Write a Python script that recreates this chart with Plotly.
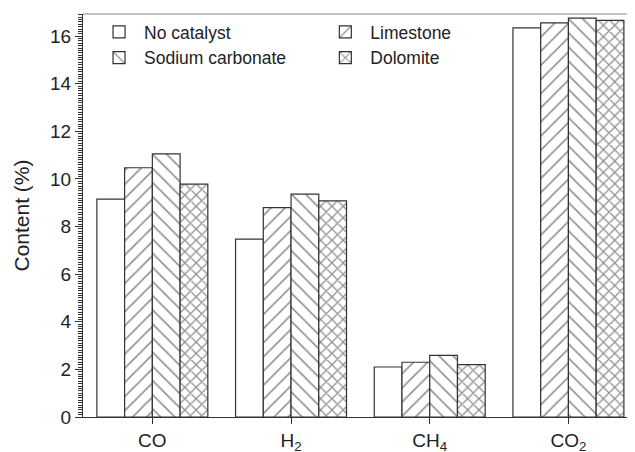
import plotly.graph_objects as go

categories = ["CO", "H<sub>2</sub>", "CH<sub>4</sub>", "CO<sub>2</sub>"]
series_names = ["No catalyst", "Limestone", "Sodium carbonate", "Dolomite"]
no_catalyst = [9.15, 7.47, 2.10, 16.35]
limestone = [10.47, 8.80, 2.30, 16.56]
sodium_carbonate = [11.05, 9.36, 2.59, 16.76]
dolomite = [9.78, 9.08, 2.20, 16.66]
y_ticks = [0, 2, 4, 6, 8, 10, 12, 14, 16]

series_values = [no_catalyst, limestone, sodium_carbonate, dolomite]
patterns = ["", "/", "\\", "x"]
pattern_sizes = [8, 10, 10, 8]
pattern_solidity = [0.2, 0.16, 0.16, 0.3]
legends = ["legend", "legend2", "legend", "legend2"]

FONT = "Liberation Sans, Arial, sans-serif"
fig = go.Figure()
for name, vals, pat, sz, so, lg in zip(series_names, series_values, patterns,
                                        pattern_sizes, pattern_solidity, legends):
    fig.add_trace(go.Bar(
        name=name, x=categories, y=vals, legend=lg,
        marker=dict(color="white",
                    line=dict(color="#333333", width=1.2),
                    pattern=dict(shape=pat, fgcolor="#222222", bgcolor="white",
                                 size=sz, solidity=so)),
    ))

leg_common = dict(yanchor="top", xanchor="left", traceorder="normal",
                  bgcolor="rgba(0,0,0,0)", itemwidth=40,
                  font=dict(size=17.5, family=FONT, color="#222222"))
fig.update_layout(
    width=635, height=452,
    margin=dict(l=75, r=8, t=6, b=43),
    plot_bgcolor="white", paper_bgcolor="white",
    barmode="group", bargap=0.2, bargroupgap=0,
    font=dict(family=FONT, size=19, color="#222222"),
    legend=dict(x=0.02, y=1.0, **leg_common),
    legend2=dict(x=0.43, y=1.0, **leg_common),
    showlegend=True,
)
fig.update_xaxes(
    range=[-0.5, 3.48], showline=True, linecolor="#333333", linewidth=1.2,
    mirror=False, ticks="outside", ticklen=6, tickcolor="#333333",
    tickfont=dict(size=19, family=FONT), showgrid=False, automargin=False,
    ticklabelstandoff=0,
)
fig.update_yaxes(
    range=[0, 16.93], tickvals=y_ticks, showline=True, linecolor="#333333",
    linewidth=1.2, ticks="outside", ticklen=7, tickcolor="#333333",
    tickfont=dict(size=19, family=FONT), showgrid=False, zeroline=False,
    automargin=False,
    minor=dict(dtick=0.1, ticks="outside", ticklen=4, tickcolor="#333333", showgrid=False),
    title=dict(text="Content (%)", font=dict(size=21, family=FONT), standoff=14),
)
# top frame line
fig.add_shape(type="line", xref="paper", yref="paper", x0=0, x1=1, y0=1, y1=1,
              line=dict(color="#888888", width=1.2))
fig.write_html("out.html")
